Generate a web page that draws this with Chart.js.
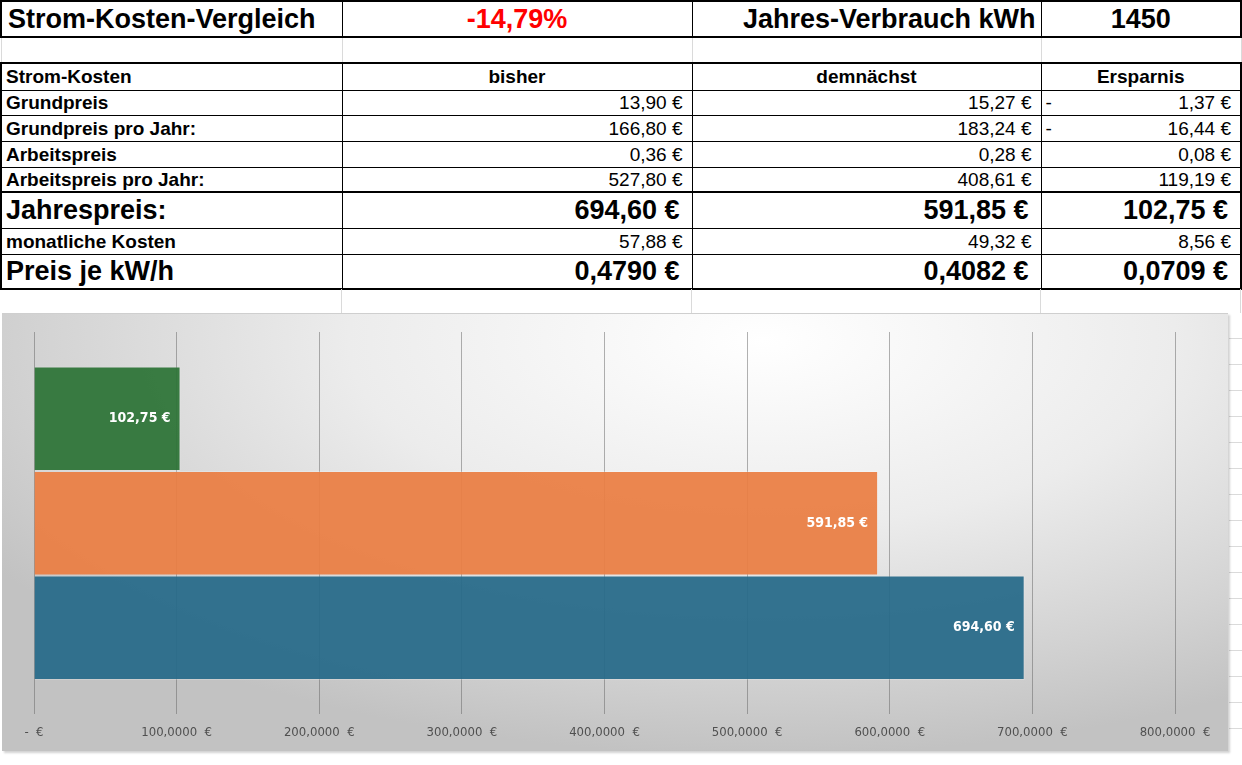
<!DOCTYPE html>
<html>
<head>
<meta charset="utf-8">
<script src="https://cdn.jsdelivr.net/npm/chart.js@4.4.1/dist/chart.umd.min.js"></script>
<style>
  html, body { margin: 0; padding: 0; background: #fff; }
  body { width: 1242px; height: 765px; position: relative; overflow: hidden; font-family: "Liberation Sans", Arial, sans-serif; }
  #sheet { position: absolute; left: 0; top: 0; border-collapse: collapse; table-layout: fixed; width: 1240px; }
  #sheet td { padding: 0 4px; white-space: nowrap; overflow: hidden; border: 1px solid #000; font-size: 19px; line-height: 1; color: #000; }
  #sheet tr.big td { font-size: 27px; font-weight: bold; }
  #sheet td.l { font-weight: bold; text-align: left; }
  #sheet td.c { font-weight: bold; text-align: center; }
  #sheet td.r { text-align: right; padding-right: 9px; }
  #sheet tr.big td.r { padding-right: 12px; }
  #sheet tr.gap td { border-top: 2px solid #000; border-bottom: 2px solid #000; border-left: 1px solid #dadada; border-right: 1px solid #dadada; }
  #sheet tr.thickTop td { border-top: 2px solid #000; }
  #sheet tr.thickBot td { border-bottom: 2px solid #000; }
  #sheet tr td:first-child { border-left: 2px solid #000; }
  #sheet tr td:last-child { border-right: 2px solid #000; }
  #sheet tr.gap td:first-child, #sheet tr.gap td:last-child { border-left-color: #dadada; border-right-color: #dadada; border-left-width: 1px; border-right-width: 1px; }
  .dash { float: left; }
  #below { position: absolute; left: 0; top: 289px; width: 1240px; height: 24px; }
  #below div { position: absolute; top: 0; bottom: 0; border-left: 1px solid #dadada; }
  #chartBox {
    position: absolute; left: 2px; top: 313px; width: 1226px; height: 437px;
    background: radial-gradient(ellipse 75% 95% at 62% 6%, #ffffff 0%, #ececec 45%, #d2d2d2 80%, #c2c2c2 100%);
    border-top: 1px solid #cfcfcf;
    box-shadow: 2px 2px 2px rgba(0,0,0,0.18);
  }
  #rightStrip {
    position: absolute; left: 1229px; top: 313px; width: 13px; height: 440px;
    background: repeating-linear-gradient(to bottom, #fff 0px, #fff 25px, #dadada 25px, #dadada 26px);
  }
</style>
</head>
<body>
<table id="sheet">
  <colgroup><col style="width:341px"><col style="width:350px"><col style="width:349px"><col style="width:200px"></colgroup>
  <tr class="big thickTop thickBot" style="height:36px">
    <td class="l" style="padding-left:6px">Strom-Kosten-Vergleich</td>
    <td class="c" style="color:#ff0000">-14,79%</td>
    <td style="text-align:right;padding-right:5px">Jahres-Verbrauch kWh</td>
    <td class="c">1450</td>
  </tr>
  <tr class="gap" style="height:26px"><td></td><td></td><td></td><td></td></tr>
  <tr class="thickTop" style="height:27px">
    <td class="l">Strom-Kosten</td><td class="c">bisher</td><td class="c">demnächst</td><td class="c">Ersparnis</td>
  </tr>
  <tr style="height:25px">
    <td class="l">Grundpreis</td><td class="r">13,90 €</td><td class="r">15,27 €</td><td class="r"><span class="dash">-</span>1,37 €</td>
  </tr>
  <tr style="height:26px">
    <td class="l">Grundpreis pro Jahr:</td><td class="r">166,80 €</td><td class="r">183,24 €</td><td class="r"><span class="dash">-</span>16,44 €</td>
  </tr>
  <tr style="height:26px">
    <td class="l">Arbeitspreis</td><td class="r">0,36 €</td><td class="r">0,28 €</td><td class="r">0,08 €</td>
  </tr>
  <tr class="thickBot" style="height:25px">
    <td class="l">Arbeitspreis pro Jahr:</td><td class="r">527,80 €</td><td class="r">408,61 €</td><td class="r">119,19 €</td>
  </tr>
  <tr class="big" style="height:36px">
    <td class="l">Jahrespreis:</td><td class="r">694,60 €</td><td class="r">591,85 €</td><td class="r">102,75 €</td>
  </tr>
  <tr style="height:26px">
    <td class="l">monatliche Kosten</td><td class="r">57,88 €</td><td class="r">49,32 €</td><td class="r">8,56 €</td>
  </tr>
  <tr class="big thickBot" style="height:35px">
    <td class="l">Preis je kW/h</td><td class="r">0,4790 €</td><td class="r">0,4082 €</td><td class="r">0,0709 €</td>
  </tr>
</table>
<div id="below"><div style="left:341px"></div><div style="left:691px"></div><div style="left:1040px"></div><div style="left:1240px"></div></div>
<div id="rightStrip"></div>
<div id="chartBox"><canvas id="barChart"></canvas></div>

<script>
// Jahrespreis-Vergleich (ein Balken je Reihe, oben nach unten)
const categories = ['Jahrespreis:'];
const seriesNames = ['Ersparnis', 'demnächst', 'bisher'];
const seriesValues = [[102.75], [591.85], [694.60]];
const seriesColors = ['rgba(47, 117, 57, 0.95)', 'rgba(234, 128, 70, 0.95)', 'rgba(41, 108, 138, 0.95)'];
const tickValues = [0, 100, 200, 300, 400, 500, 600, 700, 800];

const narrow = '"Liberation Sans Narrow", "DejaVu Sans Condensed", "Liberation Sans", sans-serif';

function euro(v, digits, gap) {
    return v.toLocaleString('de-DE', { minimumFractionDigits: digits, maximumFractionDigits: digits }) + gap + '€';
}

const barLabels = {
    id: 'barLabels',
    afterDatasetsDraw(chart) {
        const c = chart.ctx;
        c.save();
        c.font = 'bold 14px ' + narrow;
        c.fillStyle = '#ffffff';
        c.textAlign = 'right';
        c.textBaseline = 'middle';
        chart.data.datasets.forEach((ds, i) => {
            chart.getDatasetMeta(i).data.forEach((bar, j) => {
                c.fillText(euro(ds.data[j], 2, ' '), bar.x - 10, bar.y);
            });
        });
        c.restore();
    }
};

const ctx = document.getElementById('barChart').getContext('2d');
const barChart = new Chart(ctx, {
    type: 'bar',
    data: {
        labels: categories,
        datasets: seriesNames.map((name, i) => ({
            label: name,
            data: seriesValues[i],
            backgroundColor: seriesColors[i],
            borderColor: 'rgba(255, 255, 255, 0.2)',
            borderWidth: 1,
            barPercentage: 1.0,
            categoryPercentage: 0.82
        }))
    },
    options: {
        indexAxis: 'y',
        responsive: true,
        maintainAspectRatio: false,
        animation: false,
        layout: { padding: { left: 32, right: 53, top: 18, bottom: 1 } },
        scales: {
            x: {
                min: tickValues[0],
                max: tickValues[tickValues.length - 1],
                afterBuildTicks: (axis) => { axis.ticks = tickValues.map(v => ({ value: v })); },
                grid: { color: 'rgba(100, 100, 100, 0.5)', drawTicks: false },
                border: { display: false },
                ticks: {
                    padding: 10,
                    color: '#505050',
                    font: { family: narrow, size: 13 },
                    callback: (v) => v === 0 ? '-  €' : euro(v, 4, '  ')
                }
            },
            y: { display: false }
        },
        plugins: {
            legend: { display: false },
            title: { display: false },
            tooltip: { enabled: false }
        }
    },
    plugins: [barLabels]
});
</script>
</body>
</html>
